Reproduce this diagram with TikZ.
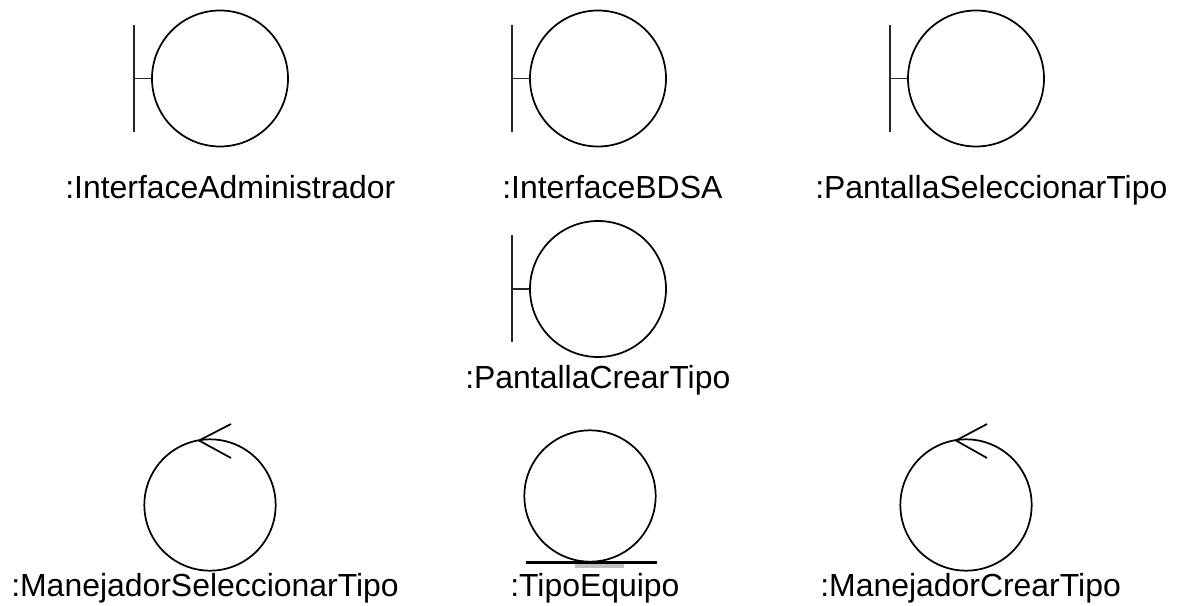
\documentclass[tikz,border=0pt]{standalone}
\usepackage{fontspec}
\setmainfont{Liberation Sans}
\tikzset{x=0.75pt,y=-0.75pt,
 lbl/.style={inner sep=0pt,anchor=base west,font=\fontsize{23.95}{28}\selectfont,text=black},
 sym/.style={draw=black,line width=1.3pt,circle,inner sep=0pt,minimum size=102pt},
 symb/.style={sym,minimum size=98.5pt},
 ln/.style={draw=black!85,line width=1.3pt},
 arrowln/.style={draw=black,line width=1.3pt},
 grd/.style={draw=black,line width=1.6pt},
 shade/.style={fill=black!25,draw=none}}
\begin{document}
\begin{tikzpicture}
\useasboundingbox (0,0) rectangle (1184,606);
\node[sym] (c1) at (220,78.5) {};
\coordinate (b1a) at (134,25); \coordinate (b1b) at (134,132); \coordinate (b1m) at (134,78.5);
\draw[ln] (b1a) -- (b1b); \draw[ln] (b1m) -- (c1.west);
\node[lbl] (t1) at (65,198) {:InterfaceAdministrador};
\node[sym] (c2) at (598,78.5) {};
\coordinate (b2a) at (512,25); \coordinate (b2b) at (512,132); \coordinate (b2m) at (512,78.5);
\draw[ln] (b2a) -- (b2b); \draw[ln] (b2m) -- (c2.west);
\node[lbl] (t2) at (502,198) {:InterfaceBDSA};
\node[sym] (c3) at (976,78.5) {};
\coordinate (b3a) at (890,25); \coordinate (b3b) at (890,132); \coordinate (b3m) at (890,78.5);
\draw[ln] (b3a) -- (b3b); \draw[ln] (b3m) -- (c3.west);
\node[lbl] (t3) at (815,198) {:PantallaSeleccionarTipo};
\node[sym] (c4) at (598,289) {};
\coordinate (b4a) at (512,235); \coordinate (b4b) at (512,342); \coordinate (b4m) at (512,289);
\draw[ln] (b4a) -- (b4b); \draw[ln] (b4m) -- (c4.west);
\node[lbl] (t4) at (465,388) {:PantallaCrearTipo};
\node[symb] (c5) at (210,505) {};
\coordinate (a5) at (199,440.5); \coordinate (a5u) at (231,424); \coordinate (a5d) at (231,458);
\draw[arrowln] (a5u) -- (a5) -- (a5d);
\node[lbl] (t5) at (11,596) {:ManejadorSeleccionarTipo};
\fill[shade] (575,562) rectangle (624,568);
\node[symb] (c6) at (590,496) {};
\coordinate (g6a) at (526,562.5); \coordinate (g6b) at (657,562.5);
\draw[grd] (g6a) -- (g6b);
\node[lbl] (t6) at (510,596) {:TipoEquipo};
\node[symb] (c7) at (966,505) {};
\coordinate (a7) at (956,440.5); \coordinate (a7u) at (987,424); \coordinate (a7d) at (987,458);
\draw[arrowln] (a7u) -- (a7) -- (a7d);
\node[lbl] (t7) at (820,596) {:ManejadorCrearTipo};
\end{tikzpicture}
\end{document}
